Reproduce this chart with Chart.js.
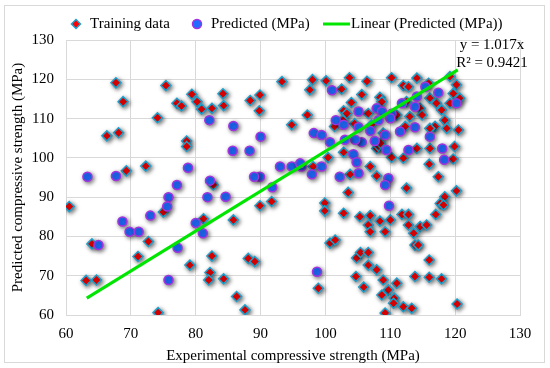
<!DOCTYPE html>
<html>
<head>
<meta charset="utf-8">
<script src="https://cdn.jsdelivr.net/npm/chart.js@4.4.1/dist/chart.umd.min.js"></script>
<style>
  html, body { margin: 0; padding: 0; background: #fff; }
  #wrap { width: 550px; height: 368px; position: relative; }
</style>
</head>
<body>
<div id="wrap"><canvas id="chart" width="550" height="368"></canvas></div>
<script>
// experimental (x) vs predicted (y) strength, MPa
const trainX = [67.7, 75.4, 68.8, 79.4, 77.1, 77.8, 80.2, 80.9, 82.5, 84.2, 84.3, 74.1, 66.3, 68.1, 78.6, 78.6, 69.3, 72.3,
  60.5, 75.0, 64.0, 72.7, 71.1, 79.1, 81.2, 85.8, 63.1, 64.7, 82.5, 82.2, 82.0, 84.3, 86.3, 74.2, 82.7,
  93.3, 98.0, 100.1, 103.7, 106.4, 110.2, 112.0, 114.1, 97.6, 102.5, 105.6, 108.4, 108.7, 104.0, 88.4, 89.9, 89.8,
  102.8, 103.3, 97.2, 94.8, 104.5, 106.6, 107.1, 108.9, 111.0, 101.4, 102.7, 112.5, 107.9, 108.2, 108.5,
  112.8, 115.9, 119.2, 120.2, 119.7, 120.7, 116.1, 117.1, 114.6, 117.9, 114.9, 118.4, 116.9, 118.7, 120.5, 113.0, 112.3, 119.2, 116.1,
  102.8, 100.4, 98.1, 106.9, 103.8, 107.9, 110.2, 112.0, 103.5, 99.9, 99.9, 102.8, 105.3, 106.9, 106.6, 108.4, 110.0, 111.8, 112.5, 109.2, 106.9,
  114.1, 116.1, 119.9, 116.0, 119.7, 117.4, 120.2, 118.4, 117.7, 118.2, 117.0, 112.8, 112.8, 114.6, 115.6,
  89.9, 91.7, 113.6, 113.8, 100.7, 101.5, 88.1, 89.1, 87.6, 98.9, 104.8, 105.4, 106.6, 106.6, 107.9, 104.7, 105.9,
  108.9, 111.0, 109.7, 108.7, 110.6, 110.5, 112.0, 113.3, 109.2, 113.8, 114.3, 116.0, 116.0, 117.9, 120.3];
const trainY = [119.1, 118.4, 114.3, 116.2, 113.9, 113.2, 114.3, 112.4, 112.6, 116.3, 113.3, 110.2, 105.6, 106.4, 104.3, 102.9, 96.7, 97.9,
  87.6, 86.2, 78.1, 78.7, 74.9, 72.7, 84.5, 84.2, 68.8, 68.9, 75.0, 70.8, 68.9, 69.2, 64.7, 60.6, 93.1,
  119.4, 119.9, 119.6, 120.4, 119.5, 120.4, 118.4, 120.3, 117.3, 117.5, 116.1, 115.4, 114.3, 114.1, 114.6, 116.0, 112.0,
  112.0, 111.3, 110.9, 108.4, 108.7, 111.3, 108.4, 106.3, 110.9, 108.0, 109.6, 114.3, 102.4, 103.0, 103.7,
  118.1, 119.0, 120.7, 118.6, 116.4, 115.2, 115.2, 113.9, 112.6, 112.2, 110.9, 109.6, 108.0, 107.5, 107.1, 110.5, 108.0, 113.9, 107.5,
  101.4, 100.1, 97.8, 97.8, 95.8, 95.4, 100.1, 99.9, 91.2, 88.5, 86.5, 85.9, 85.0, 85.3, 82.9, 83.9, 84.2, 85.6, 92.3, 81.2, 81.2,
  102.4, 102.4, 102.9, 98.4, 99.7, 95.2, 91.6, 90.1, 88.4, 88.0, 85.6, 85.6, 82.9, 82.5, 82.9,
  87.8, 88.9, 80.8, 77.8, 78.3, 79.1, 74.4, 73.6, 61.3, 66.8, 74.5, 75.9, 75.9, 72.7, 71.5, 69.8, 67.1,
  68.9, 68.1, 66.4, 65.1, 64.3, 63.0, 62.1, 61.7, 60.5, 69.8, 77.8, 74.0, 69.6, 69.2, 62.8];

const predX = [82.1, 85.8, 85.7, 78.8, 63.3, 67.7, 82.2, 77.1, 75.8, 75.6, 81.8, 84.6, 73.0, 68.7, 69.8, 71.2, 65.0, 80.0, 81.1, 77.2, 75.8,
  90.0, 88.3, 93.0, 94.8, 96.3, 89.9, 89.0, 101.0, 98.2, 101.6, 105.1, 107.9, 108.7, 110.2, 110.0, 111.8, 102.8, 108.2, 105.1, 106.9,
  99.4, 109.2, 111.5, 115.4, 117.4, 120.2, 114.1, 113.8, 113.8, 116.1, 100.7, 104.3, 105.6, 107.6, 104.8, 105.1, 99.4, 97.9,
  109.7, 109.2, 96.1, 109.8, 102.2, 112.8, 118.0, 118.3, 98.7, 91.8, 104.6, 103.0, 109.4];
const predY = [109.6, 108.1, 101.8, 97.5, 95.2, 95.4, 94.2, 93.1, 90.0, 87.6, 90.0, 90.1, 85.3, 83.8, 81.2, 81.2, 77.8, 83.4, 80.8, 77.1, 68.9,
  105.4, 101.8, 97.8, 97.8, 97.8, 95.2, 95.2, 117.2, 106.3, 109.6, 111.8, 112.6, 111.8, 111.2, 110.1, 113.9, 108.4, 109.6, 107.8, 106.9,
  105.8, 105.8, 106.7, 118.1, 116.6, 113.9, 115.6, 113.0, 107.8, 105.4, 104.0, 100.9, 104.0, 104.3, 98.9, 96.1, 97.8, 95.8,
  94.8, 93.1, 98.6, 87.8, 95.2, 102.0, 102.4, 99.5, 71.0, 92.5, 104.6, 104.6, 102.0];

// linear trendline y = 1.017x, end points
const trendX = [63.2, 120.4];
const trendY = [64.3, 122.4];

const xTicks = [60, 70, 80, 90, 100, 110, 120, 130];
const yTicks = [60, 70, 80, 90, 100, 110, 120, 130];

const seriesNames = ['Training data', 'Predicted (MPa)', 'Linear (Predicted (MPa))'];
const trendText = ['y = 1.017x', 'R\u00b2 = 0.9421'];
const xTitle = 'Experimental compressive strength (MPa)';
const yTitle = 'Predicted compressive strength (MPa)';

const FONT = '"Liberation Serif", "Times New Roman", serif';
const RED = '#ff0000', RED_EDGE = '#1ea0cc';
const BLUE = '#1f6cff', BLUE_EDGE = '#a531df';
const GREEN = '#00e600';

function toPoints(xs, ys) {
  return xs.map((x, i) => ({ x, y: ys[i] }));
}

// soft drop shadow under markers, like the office chart
const shadowPlugin = {
  id: 'markerShadow',
  beforeDatasetDraw(chart, args) {
    if (!chart.data.datasets[args.index].shadow) return;
    const ctx = chart.ctx;
    ctx.save();
    ctx.shadowColor = 'rgba(0,0,0,0.55)';
    ctx.shadowBlur = 4;
    ctx.shadowOffsetX = 1.5;
    ctx.shadowOffsetY = 1.5;
  },
  afterDatasetDraw(chart, args) {
    if (chart.data.datasets[args.index].shadow) chart.ctx.restore();
  },
};

function diamond(ctx, x, y, r) {
  ctx.beginPath();
  ctx.moveTo(x, y - r);
  ctx.lineTo(x + r, y);
  ctx.lineTo(x, y + r);
  ctx.lineTo(x - r, y);
  ctx.closePath();
}

// frame, legend, axis titles, trendline label
const decoPlugin = {
  id: 'deco',
  beforeDraw(chart) {
    const ctx = chart.ctx;
    ctx.save();
    ctx.fillStyle = '#fff';
    ctx.fillRect(0, 0, chart.width, chart.height);
    ctx.strokeStyle = '#d9d9d9';
    ctx.lineWidth = 1;
    ctx.strokeRect(4.5, 5.5, 540, 357);
    ctx.restore();
  },
  afterDraw(chart) {
    const ctx = chart.ctx;
    const area = chart.chartArea;
    ctx.save();
    ctx.font = '15px ' + FONT;
    ctx.fillStyle = '#000';
    ctx.textBaseline = 'middle';
    ctx.textAlign = 'left';

    // legend row
    const ly = 24;
    ctx.lineWidth = 1.5;
    diamond(ctx, 76, ly, 4.5);
    ctx.fillStyle = RED; ctx.fill();
    ctx.strokeStyle = RED_EDGE; ctx.stroke();
    ctx.beginPath();
    ctx.arc(197, ly, 4.5, 0, Math.PI * 2);
    ctx.fillStyle = BLUE; ctx.fill();
    ctx.strokeStyle = BLUE_EDGE; ctx.stroke();
    ctx.beginPath();
    ctx.moveTo(323, ly); ctx.lineTo(350, ly);
    ctx.strokeStyle = GREEN; ctx.lineWidth = 3; ctx.stroke();
    ctx.fillStyle = '#000';
    ctx.fillText(seriesNames[0], 90, ly);
    ctx.fillText(seriesNames[1], 211, ly);
    ctx.fillText(seriesNames[2], 351, ly);

    // trendline equation
    ctx.textAlign = 'center';
    ctx.fillText(trendText[0], 492, 45);
    ctx.fillText(trendText[1], 492, 63);

    // axis titles
    ctx.fillText(xTitle, (area.left + area.right) / 2, 356);
    ctx.translate(18, (area.top + area.bottom) / 2);
    ctx.rotate(-Math.PI / 2);
    ctx.fillText(yTitle, 0, 0);
    ctx.restore();
  },
};

const tickFont = { family: FONT, size: 15 };
const gridOpts = { color: '#d9d9d9', drawTicks: false };
const borderOpts = { color: '#d9d9d9' };

new Chart(document.getElementById('chart'), {
  type: 'scatter',
  data: {
    datasets: [
      {
        label: seriesNames[0],
        data: toPoints(trainX, trainY),
        pointStyle: 'rectRot',
        pointRadius: 5,
        backgroundColor: RED,
        borderColor: RED_EDGE,
        borderWidth: 1.5,
        shadow: true,
        order: 3,
      },
      {
        label: seriesNames[1],
        data: toPoints(predX, predY),
        pointStyle: 'circle',
        pointRadius: 4.5,
        backgroundColor: BLUE,
        borderColor: BLUE_EDGE,
        borderWidth: 1.5,
        shadow: true,
        order: 2,
      },
      {
        label: seriesNames[2],
        data: toPoints(trendX, trendY),
        showLine: true,
        pointRadius: 0,
        borderColor: GREEN,
        borderWidth: 3,
        order: 1,
      },
    ],
  },
  options: {
    responsive: false,
    animation: false,
    devicePixelRatio: 1,
    layout: { padding: { left: 0, right: 30, top: 40, bottom: 0 } },
    plugins: {
      legend: { display: false },
      tooltip: { enabled: false },
    },
    scales: {
      x: {
        type: 'linear',
        min: 60,
        max: 130,
        afterBuildTicks(s) { s.ticks = xTicks.map((v) => ({ value: v })); },
        afterFit(s) { s.height = 53; },
        ticks: { font: tickFont, color: '#000', padding: 10, maxRotation: 0 },
        grid: gridOpts,
        border: borderOpts,
      },
      y: {
        type: 'linear',
        min: 60,
        max: 130,
        afterBuildTicks(s) { s.ticks = yTicks.map((v) => ({ value: v })); },
        afterFit(s) { s.width = 66; },
        ticks: { font: tickFont, color: '#000', padding: 12 },
        grid: gridOpts,
        border: borderOpts,
      },
    },
  },
  plugins: [shadowPlugin, decoPlugin],
});
</script>
</body>
</html>
